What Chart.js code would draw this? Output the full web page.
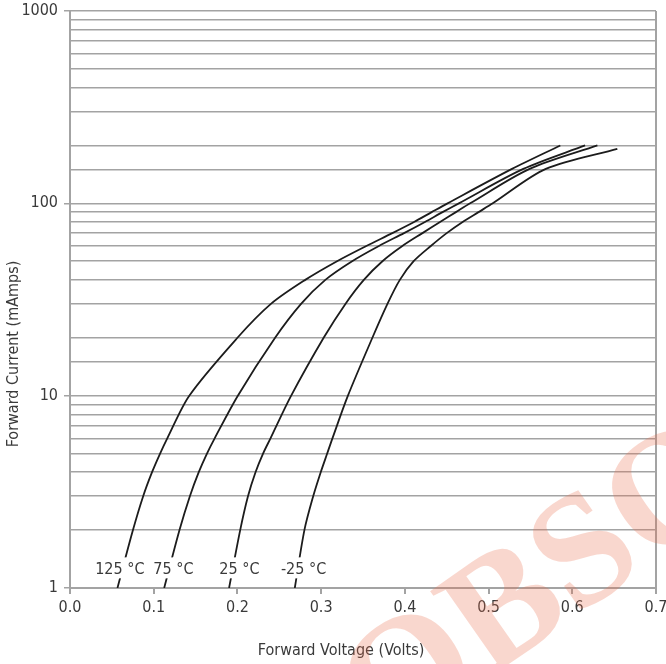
<!DOCTYPE html>
<html>
<head>
<meta charset="utf-8">
<script src="https://cdn.jsdelivr.net/npm/chart.js@4/dist/chart.umd.min.js"></script>
<style>
  html, body { margin: 0; padding: 0; background: #fff; }
  #wrap { width: 666px; height: 664px; }
</style>
</head>
<body>
<div id="wrap"><canvas id="chart" width="666" height="664"></canvas></div>
<script>
// Forward current (mA) points, shared by all temperatures
const currents = [1, 2, 3, 4, 5, 6, 10, 20, 30, 40, 50, 60, 70, 80, 90, 100, 151, 200];
const currentsCold = [1, 2, 3, 4, 5, 6, 10, 20, 30, 40, 50, 60, 70, 80, 90, 100, 151, 192];

// Forward voltage (V) at each of those currents
const volts125 = [0.0567, 0.0752, 0.0874, 0.098, 0.1076, 0.1162, 0.1425, 0.2, 0.24, 0.281, 0.319, 0.354, 0.385, 0.411, 0.432, 0.451, 0.528, 0.5857];
const volts75 = [0.1125, 0.1308, 0.1432, 0.1538, 0.1636, 0.1728, 0.2005, 0.245, 0.276, 0.305, 0.337, 0.369, 0.399, 0.424, 0.445, 0.4645, 0.5415, 0.6153];
const volts25 = [0.19, 0.2033, 0.2126, 0.2216, 0.2306, 0.2395, 0.2642, 0.303, 0.329, 0.351, 0.3732, 0.397, 0.421, 0.442, 0.461, 0.478, 0.549, 0.63];
const voltsM25 = [0.2685, 0.28, 0.2905, 0.2995, 0.3072, 0.3135, 0.332, 0.3612, 0.3792, 0.394, 0.4105, 0.431, 0.45, 0.469, 0.488, 0.505, 0.5684, 0.6538];

// Curve labels and where they sit (volts, mA)
const curveLabels = ['125 °C', '75 °C', '25 °C', '-25 °C'];
const labelVolts = [0.0595, 0.1235, 0.2024, 0.279];
const labelCurrent = 1.25;

const xTicks = [0, 0.1, 0.2, 0.3, 0.4, 0.5, 0.6, 0.7];
const yMajor = [1, 10, 100, 1000];

const FONT = "'Liberation Sans Narrow', 'DejaVu Sans Condensed', 'Arial Narrow', sans-serif";
const GRID = '#a3a3a3';
const TEXT = '#3a3a3a';

function toPoints(vs, is) {
  return vs.map((v, k) => ({ x: v, y: is[k] }));
}

function curve(vs, is) {
  return {
    data: toPoints(vs, is),
    borderColor: '#1c1c1c',
    borderWidth: 1.8,
    pointRadius: 0,
    fill: false,
    tension: 0.3
  };
}

// Labels on the curves, with a white box that breaks the line
const curveLabelPlugin = {
  id: 'curveLabels',
  afterDatasetsDraw(chart) {
    const { ctx, scales } = chart;
    ctx.save();
    ctx.font = '16px ' + FONT;
    ctx.textAlign = 'center';
    ctx.textBaseline = 'middle';
    curveLabels.forEach((txt, k) => {
      const px = scales.x.getPixelForValue(labelVolts[k]);
      const py = scales.y.getPixelForValue(labelCurrent);
      const w = ctx.measureText(txt).width;
      ctx.fillStyle = '#fff';
      ctx.fillRect(px - w / 2 - 1, py - 12, w + 2, 21);
      ctx.fillStyle = TEXT;
      ctx.fillText(txt, px, py);
    });
    ctx.restore();
  }
};

// Axis titles and the OBSOLETE stamp
const decorPlugin = {
  id: 'decor',
  afterDraw(chart) {
    const ctx = chart.ctx;
    ctx.save();
    ctx.fillStyle = TEXT;
    ctx.font = '16px ' + FONT;
    ctx.textAlign = 'center';
    ctx.textBaseline = 'middle';
    ctx.fillText('Forward Voltage (Volts)', 341, 651);
    ctx.translate(14, 354);
    ctx.rotate(-Math.PI / 2);
    ctx.fillText('Forward Current (mAmps)', 0, 0);
    ctx.restore();

    ctx.save();
    ctx.font = 'bold 160px "Liberation Serif", "DejaVu Serif", serif';
    ctx.fillStyle = 'rgba(235, 110, 80, 0.28)';
    ctx.textBaseline = 'middle';
    const wO = ctx.measureText('O').width;
    const wB = ctx.measureText('B').width;
    ctx.translate(508, 614);
    ctx.rotate(-35 * Math.PI / 180);
    ctx.fillText('OBSOLETE', -(wO + wB / 2), 0);
    ctx.restore();
  }
};

const isMajor = v => yMajor.some(m => Math.abs(m - v) < 1e-9);

new Chart(document.getElementById('chart'), {
  type: 'line',
  data: {
    datasets: [
      curve(volts125, currents),
      curve(volts75, currents),
      curve(volts25, currents),
      curve(voltsM25, currentsCold)
    ]
  },
  options: {
    responsive: false,
    animation: false,
    layout: { padding: { top: 11, right: 10, bottom: 0, left: 0 } },
    plugins: {
      legend: { display: false },
      tooltip: { enabled: false }
    },
    scales: {
      x: {
        type: 'linear',
        min: 0,
        max: 0.7,
        afterBuildTicks: s => { s.ticks = xTicks.map(v => ({ value: v })); },
        ticks: {
          color: TEXT,
          font: { family: FONT, size: 16 },
          padding: 4,
          maxRotation: 0,
          callback: v => Number(v).toFixed(1)
        },
        grid: {
          drawOnChartArea: true,
          color: c => (c.tick && Math.abs(c.tick.value - 0.7) < 1e-6) ? GRID : 'rgba(0,0,0,0)',
          tickColor: GRID,
          tickLength: 6,
          lineWidth: 2
        },
        border: { display: true, color: GRID, width: 2 },
        afterFit: s => { s.height = 76; s.paddingLeft = 0; s.paddingRight = 0; }
      },
      y: {
        type: 'logarithmic',
        min: 1,
        max: 1000,
        ticks: {
          autoSkip: false,
          color: TEXT,
          font: { family: FONT, size: 16 },
          padding: 6,
          callback: v => isMajor(v) ? String(v) : ''
        },
        grid: {
          color: GRID,
          lineWidth: 1.5,
          tickLength: 6,
          tickColor: c => (c.tick && isMajor(c.tick.value)) ? GRID : 'rgba(0,0,0,0)'
        },
        border: { display: true, color: GRID, width: 2 },
        afterFit: s => { s.width = 70; s.paddingTop = 0; s.paddingBottom = 0; }
      }
    }
  },
  plugins: [curveLabelPlugin, decorPlugin]
});
</script>
</body>
</html>
